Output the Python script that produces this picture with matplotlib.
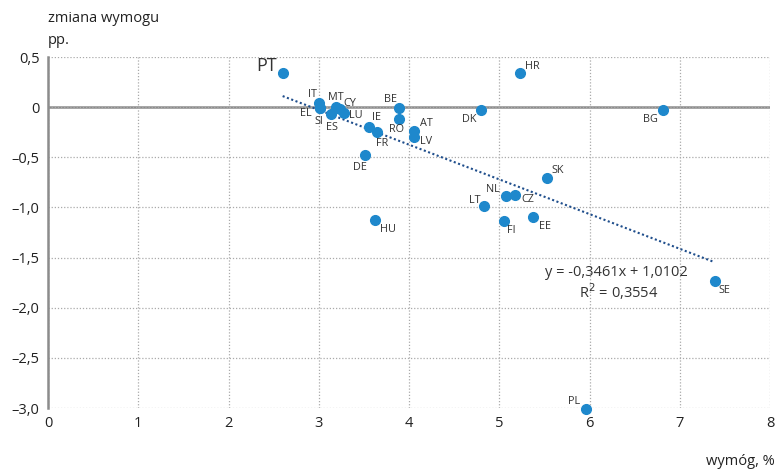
import matplotlib.pyplot as plt
import numpy as np

plt.rcParams['font.family'] = ['Open Sans', 'DejaVu Sans']

# data
kraje = ['PT', 'HR', 'IT', 'EL', 'SI', 'MT', 'CY', 'LU', 'ES', 'IE', 'FR', 'BE',
         'RO', 'AT', 'LV', 'DE', 'DK', 'BG', 'SK', 'NL', 'CZ', 'LT', 'FI', 'EE',
         'HU', 'SE', 'PL']
wymog = [2.60, 5.23, 3.00, 3.01, 3.01, 3.19, 3.24, 3.28, 3.14, 3.56, 3.65, 3.89,
         3.89, 4.06, 4.06, 3.51, 4.80, 6.81, 5.53, 5.07, 5.18, 4.83, 5.05, 5.37,
         3.62, 7.39, 5.96]
zmiana = [0.34, 0.34, 0.04, -0.01, -0.01, 0.00, -0.02, -0.06, -0.07, -0.20, -0.25, -0.01,
          -0.12, -0.24, -0.30, -0.48, -0.03, -0.03, -0.71, -0.89, -0.88, -0.99, -1.14, -1.10,
          -1.13, -1.73, -3.01]
yticks = [0.5, 0, -0.5, -1.0, -1.5, -2.0, -2.5, -3.0]
ylabels = ['0,5', '0', '\u20130,5', '\u20131,0', '\u20131,5', '\u20132,0', '\u20132,5', '\u20133,0']
xticks = [0, 1, 2, 3, 4, 5, 6, 7, 8]
# label offsets in pixels (dx, dy)
przes = {'PT': (-16, 7), 'HR': (12, 7), 'IT': (-6, 9), 'EL': (-14, -5), 'SI': (-1, -13),
         'MT': (0, 10), 'CY': (9, 6), 'LU': (12, -2), 'ES': (1, -13), 'IE': (7, 10),
         'FR': (5, -11), 'BE': (-9, 9), 'RO': (-3, -10), 'AT': (12, 8), 'LV': (12, -4),
         'DE': (-5, -12), 'DK': (-12, -9), 'BG': (-12, -9), 'SK': (11, 8), 'NL': (-13, 7),
         'CZ': (12, -4), 'LT': (-9, 6), 'FI': (8, -9), 'EE': (12, -9), 'HU': (13, -9),
         'SE': (9, -10), 'PL': (-12, 8)}
a, b = -0.3461, 1.0102

fig = plt.figure(figsize=(7.77, 4.69), dpi=100)
ax = fig.add_axes([48/777, 1-408/469, 722/777, 351/469])

ax.set_xlim(0, 8)
ax.set_ylim(-3, 0.5)
ax.set_xticks(xticks)
ax.set_xticklabels([str(i) for i in xticks])
ax.set_yticks(yticks)
ax.set_yticklabels(ylabels)
ax.tick_params(length=0, labelsize=10.5, colors='#222222', pad=6)
ax.grid(True, color='#aaaaaa', linestyle=(0, (1, 1.5)), linewidth=0.9)
for s in ['top', 'right', 'bottom']:
    ax.spines[s].set_visible(False)
ax.spines['left'].set_color('#8c8c8c')
ax.spines['left'].set_linewidth(1.8)
ax.axhline(0, color='#8c8c8c', linewidth=1.8, zorder=1)

xs = np.array([min(wymog), 7.38])
ax.plot(xs, a * xs + b, color='#1f4e8c', linestyle=(0, (1, 1.2)), linewidth=1.5, zorder=2)

ax.plot(wymog, zmiana, 'o', color='#1e88cc', markersize=7, zorder=3, clip_on=False)

for k, x, y in zip(kraje, wymog, zmiana):
    dx, dy = przes[k]
    ax.annotate(k, (x, y), xytext=(dx, dy), textcoords='offset pixels',
                ha='center', va='center', fontsize=13 if k == 'PT' else 7.8,
                color='#333333', annotation_clip=False)

ax.text(6.30, -1.65, 'y = -0,3461x + 1,0102', ha='center', va='center', fontsize=10.5,
        color='#333333')
ax.text(6.32, -1.84, 'R$^2$ = 0,3554', ha='center', va='center', fontsize=10.5,
        color='#333333')

fig.text(48/777, 1-18/469, 'zmiana wymogu', fontsize=10.5, va='center', color='#222222')
fig.text(48/777, 1-40/469, 'pp.', fontsize=10.5, va='center', color='#222222')
fig.text(775/777, 1-461/469, 'wymóg, %', fontsize=10.5, ha='right', va='center',
         color='#222222')

fig.savefig('out.png', dpi=100)
